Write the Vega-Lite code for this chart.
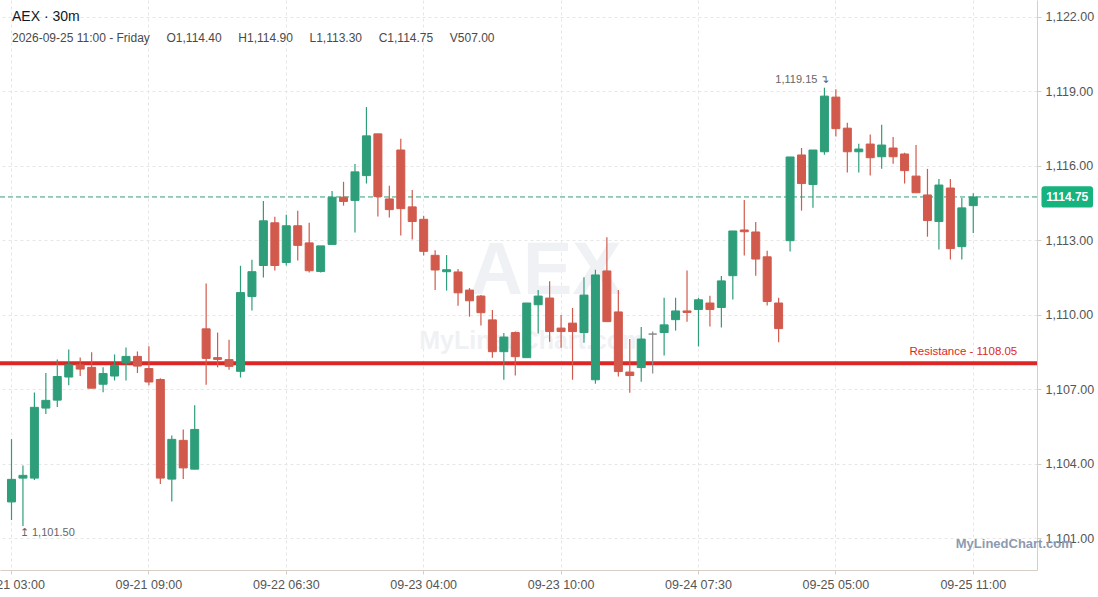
{
  "$schema": "https://vega.github.io/schema/vega-lite/v6.json",
  "autosize": {"type": "none"},
  "padding": {"left": 0, "top": 0, "right": 61, "bottom": 27},
  "width": 1037,
  "height": 570,
  "background": "white",
  "config": {
    "view": {"stroke": null},
    "font": "Liberation Sans",
    "text": {"font": "Liberation Sans"},
    "axis": {
      "title": null,
      "grid": true,
      "gridColor": "#e6e6e6",
      "gridDash": [3, 3],
      "domainColor": "#d8cfc4",
      "tickColor": "#d8cfc4",
      "tickSize": 4,
      "labelPadding": 4,
      "labelFontSize": 12.5,
      "labelColor": "#555555",
      "labelFlush": false,
      "labelOverlap": false
    },
    "axisX": {"labelAngle": 0}
  },
  "title": {
    "text": "AEX · 30m",
    "subtitle": "2026-09-25 11:00 - Friday\u00a0\u00a0\u00a0\u00a0\u00a0O1,114.40\u00a0\u00a0\u00a0\u00a0\u00a0H1,114.90\u00a0\u00a0\u00a0\u00a0\u00a0L1,113.30\u00a0\u00a0\u00a0\u00a0\u00a0C1,114.75\u00a0\u00a0\u00a0\u00a0\u00a0V507.00",
    "anchor": "start",
    "orient": "top",
    "frame": "group",
    "offset": -44,
    "dx": 12,
    "font": "Liberation Sans",
    "fontSize": 14,
    "fontWeight": "normal",
    "color": "#131722",
    "subtitleFont": "Liberation Sans",
    "subtitleFontSize": 12,
    "subtitleColor": "#4a4a4a",
    "subtitlePadding": 9
  },
  "datasets": {
    "candles": [
      {"t": "09-21 03:00", "o": 1102.47, "h": 1105.00, "l": 1101.74, "c": 1103.38},
      {"t": "09-21 03:30", "o": 1103.43, "h": 1103.94, "l": 1101.50, "c": 1103.54},
      {"t": "09-21 04:00", "o": 1103.43, "h": 1106.88, "l": 1103.35, "c": 1106.28},
      {"t": "09-21 04:30", "o": 1106.25, "h": 1107.66, "l": 1106.01, "c": 1106.56},
      {"t": "09-21 05:00", "o": 1106.57, "h": 1108.21, "l": 1106.29, "c": 1107.52},
      {"t": "09-21 05:30", "o": 1107.50, "h": 1108.61, "l": 1107.17, "c": 1107.99},
      {"t": "09-21 06:00", "o": 1107.99, "h": 1108.29, "l": 1107.54, "c": 1107.82},
      {"t": "09-21 06:30", "o": 1107.89, "h": 1108.50, "l": 1107.05, "c": 1107.05},
      {"t": "09-21 07:00", "o": 1107.21, "h": 1107.89, "l": 1106.89, "c": 1107.64},
      {"t": "09-21 07:30", "o": 1107.54, "h": 1108.41, "l": 1107.36, "c": 1107.97},
      {"t": "09-21 08:00", "o": 1108.07, "h": 1108.69, "l": 1107.36, "c": 1108.33},
      {"t": "09-21 08:30", "o": 1108.33, "h": 1108.53, "l": 1107.66, "c": 1107.94},
      {"t": "09-21 09:00", "o": 1107.84, "h": 1108.74, "l": 1107.17, "c": 1107.30},
      {"t": "09-21 09:30", "o": 1107.40, "h": 1107.45, "l": 1103.19, "c": 1103.43},
      {"t": "09-21 10:00", "o": 1103.39, "h": 1105.15, "l": 1102.49, "c": 1104.99},
      {"t": "09-21 10:30", "o": 1104.95, "h": 1105.39, "l": 1103.39, "c": 1103.84},
      {"t": "09-21 11:00", "o": 1103.79, "h": 1106.36, "l": 1103.79, "c": 1105.39},
      {"t": "09-21 11:30", "o": 1109.44, "h": 1111.27, "l": 1107.19, "c": 1108.25},
      {"t": "09-21 12:00", "o": 1108.28, "h": 1109.29, "l": 1107.89, "c": 1108.21},
      {"t": "09-21 12:30", "o": 1108.20, "h": 1109.00, "l": 1107.79, "c": 1107.93},
      {"t": "09-22 04:30", "o": 1107.73, "h": 1111.98, "l": 1107.48, "c": 1110.90},
      {"t": "09-22 05:00", "o": 1110.74, "h": 1112.22, "l": 1110.18, "c": 1111.74},
      {"t": "09-22 05:30", "o": 1111.99, "h": 1114.59, "l": 1111.51, "c": 1113.79},
      {"t": "09-22 06:00", "o": 1113.71, "h": 1113.95, "l": 1111.79, "c": 1111.99},
      {"t": "09-22 06:30", "o": 1112.11, "h": 1114.03, "l": 1111.99, "c": 1113.59},
      {"t": "09-22 07:00", "o": 1113.59, "h": 1114.19, "l": 1112.19, "c": 1112.80},
      {"t": "09-22 07:30", "o": 1112.90, "h": 1113.71, "l": 1111.71, "c": 1111.78},
      {"t": "09-22 08:00", "o": 1111.75, "h": 1112.78, "l": 1111.71, "c": 1112.78},
      {"t": "09-22 08:30", "o": 1112.84, "h": 1114.99, "l": 1112.84, "c": 1114.74},
      {"t": "09-22 09:00", "o": 1114.74, "h": 1115.36, "l": 1114.40, "c": 1114.57},
      {"t": "09-22 09:30", "o": 1114.61, "h": 1116.08, "l": 1113.32, "c": 1115.76},
      {"t": "09-22 10:00", "o": 1115.61, "h": 1118.37, "l": 1115.29, "c": 1117.21},
      {"t": "09-22 10:30", "o": 1117.29, "h": 1117.29, "l": 1113.96, "c": 1114.77},
      {"t": "09-22 11:00", "o": 1114.67, "h": 1115.20, "l": 1113.92, "c": 1114.24},
      {"t": "09-23 03:00", "o": 1116.64, "h": 1117.09, "l": 1113.20, "c": 1114.28},
      {"t": "09-23 03:30", "o": 1114.35, "h": 1115.03, "l": 1113.04, "c": 1113.76},
      {"t": "09-23 04:00", "o": 1113.85, "h": 1113.99, "l": 1112.39, "c": 1112.56},
      {"t": "09-23 04:30", "o": 1112.40, "h": 1112.60, "l": 1111.00, "c": 1111.81},
      {"t": "09-23 05:00", "o": 1111.74, "h": 1112.41, "l": 1110.98, "c": 1111.82},
      {"t": "09-23 05:30", "o": 1111.73, "h": 1111.85, "l": 1110.37, "c": 1110.89},
      {"t": "09-23 06:00", "o": 1111.00, "h": 1111.08, "l": 1109.93, "c": 1110.57},
      {"t": "09-23 06:30", "o": 1110.76, "h": 1110.80, "l": 1109.57, "c": 1110.09},
      {"t": "09-23 07:00", "o": 1109.80, "h": 1110.20, "l": 1108.28, "c": 1108.52},
      {"t": "09-23 07:30", "o": 1108.52, "h": 1109.27, "l": 1107.39, "c": 1109.11},
      {"t": "09-23 08:00", "o": 1109.29, "h": 1109.33, "l": 1107.56, "c": 1108.32},
      {"t": "09-23 08:30", "o": 1108.28, "h": 1110.48, "l": 1108.28, "c": 1110.48},
      {"t": "09-23 09:00", "o": 1110.41, "h": 1111.00, "l": 1109.25, "c": 1110.76},
      {"t": "09-23 09:30", "o": 1110.68, "h": 1111.36, "l": 1108.92, "c": 1109.33},
      {"t": "09-23 10:00", "o": 1109.47, "h": 1110.00, "l": 1108.68, "c": 1109.33},
      {"t": "09-23 10:30", "o": 1109.67, "h": 1110.28, "l": 1107.39, "c": 1109.33},
      {"t": "09-23 11:00", "o": 1109.29, "h": 1111.52, "l": 1108.88, "c": 1110.80},
      {"t": "09-23 11:30", "o": 1107.39, "h": 1111.82, "l": 1107.23, "c": 1111.61},
      {"t": "09-23 12:00", "o": 1111.77, "h": 1113.13, "l": 1109.73, "c": 1109.73},
      {"t": "09-23 12:30", "o": 1110.12, "h": 1111.00, "l": 1107.52, "c": 1107.72},
      {"t": "09-23 13:00", "o": 1107.70, "h": 1109.03, "l": 1106.87, "c": 1107.56},
      {"t": "09-23 13:30", "o": 1107.88, "h": 1109.51, "l": 1107.31, "c": 1109.03},
      {"t": "09-24 05:30", "o": 1109.23, "h": 1109.33, "l": 1107.64, "c": 1109.23},
      {"t": "09-24 06:00", "o": 1109.29, "h": 1110.69, "l": 1108.37, "c": 1109.60},
      {"t": "09-24 06:30", "o": 1109.81, "h": 1110.69, "l": 1109.37, "c": 1110.16},
      {"t": "09-24 07:00", "o": 1110.16, "h": 1111.79, "l": 1109.73, "c": 1110.10},
      {"t": "09-24 07:30", "o": 1110.22, "h": 1110.69, "l": 1108.73, "c": 1110.61},
      {"t": "09-24 08:00", "o": 1110.48, "h": 1110.77, "l": 1109.53, "c": 1110.22},
      {"t": "09-24 08:30", "o": 1110.30, "h": 1111.57, "l": 1109.49, "c": 1111.37},
      {"t": "09-24 09:00", "o": 1111.58, "h": 1113.38, "l": 1110.62, "c": 1113.38},
      {"t": "09-24 09:30", "o": 1113.42, "h": 1114.63, "l": 1112.39, "c": 1113.35},
      {"t": "09-24 10:00", "o": 1113.34, "h": 1113.74, "l": 1111.58, "c": 1112.25},
      {"t": "09-24 10:30", "o": 1112.34, "h": 1112.58, "l": 1110.38, "c": 1110.54},
      {"t": "09-24 11:00", "o": 1110.48, "h": 1110.69, "l": 1108.90, "c": 1109.45},
      {"t": "09-24 11:30", "o": 1112.99, "h": 1116.36, "l": 1112.55, "c": 1116.36},
      {"t": "09-24 12:00", "o": 1116.44, "h": 1116.72, "l": 1114.20, "c": 1115.29},
      {"t": "09-25 04:00", "o": 1115.25, "h": 1116.64, "l": 1114.32, "c": 1116.64},
      {"t": "09-25 04:30", "o": 1116.57, "h": 1119.15, "l": 1116.45, "c": 1118.81},
      {"t": "09-25 05:00", "o": 1118.77, "h": 1119.09, "l": 1117.18, "c": 1117.50},
      {"t": "09-25 05:30", "o": 1117.52, "h": 1117.74, "l": 1115.73, "c": 1116.57},
      {"t": "09-25 06:00", "o": 1116.57, "h": 1116.89, "l": 1115.73, "c": 1116.68},
      {"t": "09-25 06:30", "o": 1116.88, "h": 1117.26, "l": 1115.61, "c": 1116.33},
      {"t": "09-25 07:00", "o": 1116.37, "h": 1117.66, "l": 1115.89, "c": 1116.84},
      {"t": "09-25 07:30", "o": 1116.72, "h": 1117.16, "l": 1116.09, "c": 1116.37},
      {"t": "09-25 08:00", "o": 1116.48, "h": 1116.53, "l": 1115.29, "c": 1115.81},
      {"t": "09-25 08:30", "o": 1115.59, "h": 1116.84, "l": 1114.92, "c": 1114.92},
      {"t": "09-25 09:00", "o": 1114.83, "h": 1115.88, "l": 1113.15, "c": 1113.80},
      {"t": "09-25 09:30", "o": 1113.76, "h": 1115.47, "l": 1112.63, "c": 1115.23},
      {"t": "09-25 10:00", "o": 1115.11, "h": 1115.47, "l": 1112.23, "c": 1112.67},
      {"t": "09-25 10:30", "o": 1112.75, "h": 1114.71, "l": 1112.23, "c": 1114.31},
      {"t": "09-25 11:00", "o": 1114.40, "h": 1114.90, "l": 1113.30, "c": 1114.75}
    ],
    "marks": [
      {"name": "wm_aex", "t": "09-23 09:30", "v": 1111.74, "label": "AEX"},
      {"name": "wm_site", "t": "09-23 08:30", "v": 1108.97, "label": "MyLinedChart.com"},
      {"name": "high", "t": "09-25 04:30", "v": 1119.15, "label": "1,119.15 ↴"},
      {"name": "low", "t": "09-21 03:30", "v": 1101.50, "label": "↥ 1,101.50"},
      {"name": "resistance", "t": "09-25 11:00", "v": 1108.05, "label": "Resistance - 1108.05"},
      {"name": "last", "t": "09-25 11:00", "v": 1114.75, "label": "1114.75"},
      {"name": "wm_corner", "t": "09-25 11:00", "v": 1101.00, "label": "MyLinedChart.com"}
    ]
  },
  "layer": [
    {
      "data": {"name": "marks"},
      "transform": [{"filter": "datum.name == 'wm_aex'"}],
      "mark": {"type": "text", "fontWeight": "bold", "fontSize": 74, "color": "#eff1f4", "baseline": "middle", "align": "center", "dx": -4},
      "encoding": {
        "x": {"field": "t", "type": "ordinal", "title": null, "scale": {"type": "band"}},
        "y": {"field": "v", "type": "quantitative", "title": null, "axis": {"orient": "right"}},
        "text": {"field": "label"}
      }
    },
    {
      "data": {"name": "marks"},
      "transform": [{"filter": "datum.name == 'wm_site'"}],
      "mark": {"type": "text", "fontWeight": "bold", "fontSize": 25, "color": "#eff1f4", "baseline": "middle", "align": "center", "dx": 5},
      "encoding": {
        "x": {"field": "t", "type": "ordinal", "title": null, "scale": {"type": "band"}},
        "y": {"field": "v", "type": "quantitative", "title": null, "axis": {"orient": "right"}},
        "text": {"field": "label"}
      }
    },
    {
      "data": {"name": "marks"},
      "transform": [{"filter": "datum.name == 'resistance'"}],
      "mark": {"type": "rule", "color": "#dd2727", "strokeWidth": 4},
      "encoding": {
        "y": {"field": "v", "type": "quantitative", "title": null, "axis": {"orient": "right"}}
      }
    },
    {
      "data": {"name": "marks"},
      "transform": [{"filter": "datum.name == 'last'"}],
      "mark": {"type": "rule", "color": "#2e9e7a", "strokeWidth": 1, "strokeDash": [5, 3]},
      "encoding": {
        "y": {"field": "v", "type": "quantitative", "title": null, "axis": {"orient": "right"}}
      }
    },
    {
      "data": {"name": "candles"},
      "mark": {"type": "rule", "strokeWidth": 1.2},
      "encoding": {
        "x": {"field": "t", "type": "ordinal", "title": null, "scale": {"type": "band"}},
        "y": {"field": "l", "type": "quantitative", "title": null, "axis": {"orient": "right"}},
        "y2": {"field": "h"},
        "color": {
          "condition": [
            {"test": "datum.c > datum.o", "value": "#2e9e7a"},
            {"test": "datum.c < datum.o", "value": "#d15a4c"}
          ],
          "value": "#8a8a8a"
        }
      }
    },
    {
      "data": {"name": "candles"},
      "mark": {"type": "bar", "size": 8, "strokeWidth": 1},
      "encoding": {
        "x": {
          "field": "t",
          "type": "ordinal",
          "title": null,
          "scale": {
            "type": "band",
            "paddingInner": 0,
            "paddingOuter": 0.285,
            "align": 0.884,
            "domain": [
              "09-21 03:00", "09-21 03:30", "09-21 04:00", "09-21 04:30", "09-21 05:00", "09-21 05:30",
              "09-21 06:00", "09-21 06:30", "09-21 07:00", "09-21 07:30", "09-21 08:00", "09-21 08:30",
              "09-21 09:00", "09-21 09:30", "09-21 10:00", "09-21 10:30", "09-21 11:00", "09-21 11:30",
              "09-21 12:00", "09-21 12:30", "09-22 04:30", "09-22 05:00", "09-22 05:30", "09-22 06:00",
              "09-22 06:30", "09-22 07:00", "09-22 07:30", "09-22 08:00", "09-22 08:30", "09-22 09:00",
              "09-22 09:30", "09-22 10:00", "09-22 10:30", "09-22 11:00", "09-23 03:00", "09-23 03:30",
              "09-23 04:00", "09-23 04:30", "09-23 05:00", "09-23 05:30", "09-23 06:00", "09-23 06:30",
              "09-23 07:00", "09-23 07:30", "09-23 08:00", "09-23 08:30", "09-23 09:00", "09-23 09:30",
              "09-23 10:00", "09-23 10:30", "09-23 11:00", "09-23 11:30", "09-23 12:00", "09-23 12:30",
              "09-23 13:00", "09-23 13:30", "09-24 05:30", "09-24 06:00", "09-24 06:30", "09-24 07:00",
              "09-24 07:30", "09-24 08:00", "09-24 08:30", "09-24 09:00", "09-24 09:30", "09-24 10:00",
              "09-24 10:30", "09-24 11:00", "09-24 11:30", "09-24 12:00", "09-25 04:00", "09-25 04:30",
              "09-25 05:00", "09-25 05:30", "09-25 06:00", "09-25 06:30", "09-25 07:00", "09-25 07:30",
              "09-25 08:00", "09-25 08:30", "09-25 09:00", "09-25 09:30", "09-25 10:00", "09-25 10:30",
              "09-25 11:00", "09-25 11:30", "09-25 12:00", "09-25 12:30", "09-25 13:00", "09-25 13:30"
            ]
          },
          "axis": {
            "values": ["09-21 03:00", "09-21 09:00", "09-22 06:30", "09-23 04:00", "09-23 10:00", "09-24 07:30", "09-25 05:00", "09-25 11:00"],
            "bandPosition": 0.5
          }
        },
        "y": {
          "field": "o",
          "type": "quantitative",
          "title": null,
          "scale": {"domain": [1099.73, 1122.68], "nice": false, "zero": false},
          "axis": {
            "orient": "right",
            "values": [1101, 1104, 1107, 1110, 1113, 1116, 1119, 1122],
            "format": ",.2f"
          }
        },
        "y2": {"field": "c"},
        "color": {
          "condition": [
            {"test": "datum.c > datum.o", "value": "#2e9e7a"},
            {"test": "datum.c < datum.o", "value": "#d15a4c"}
          ],
          "value": "#8a8a8a"
        },
        "stroke": {
          "condition": [
            {"test": "datum.c > datum.o", "value": "#2e9e7a"},
            {"test": "datum.c < datum.o", "value": "#d15a4c"}
          ],
          "value": "#8a8a8a"
        }
      }
    },
    {
      "data": {"name": "marks"},
      "transform": [{"filter": "datum.name == 'high'"}],
      "mark": {"type": "text", "fontSize": 11, "color": "#666666", "align": "right", "baseline": "middle", "dx": 5, "dy": -8},
      "encoding": {
        "x": {"field": "t", "type": "ordinal", "title": null, "scale": {"type": "band"}},
        "y": {"field": "v", "type": "quantitative", "title": null, "axis": {"orient": "right"}},
        "text": {"field": "label"}
      }
    },
    {
      "data": {"name": "marks"},
      "transform": [{"filter": "datum.name == 'low'"}],
      "mark": {"type": "text", "fontSize": 11, "color": "#666666", "align": "left", "baseline": "middle", "dx": -3, "dy": 7},
      "encoding": {
        "x": {"field": "t", "type": "ordinal", "title": null, "scale": {"type": "band"}},
        "y": {"field": "v", "type": "quantitative", "title": null, "axis": {"orient": "right"}},
        "text": {"field": "label"}
      }
    },
    {
      "data": {"name": "marks"},
      "transform": [{"filter": "datum.name == 'resistance'"}],
      "mark": {"type": "text", "fontSize": 11.5, "color": "#dd2727", "align": "right", "baseline": "middle", "dx": 44, "dy": -11},
      "encoding": {
        "x": {"field": "t", "type": "ordinal", "title": null, "scale": {"type": "band"}},
        "y": {"field": "v", "type": "quantitative", "title": null, "axis": {"orient": "right"}},
        "text": {"field": "label"}
      }
    },
    {
      "data": {"name": "marks"},
      "transform": [{"filter": "datum.name == 'last'"}],
      "mark": {
        "type": "point",
        "filled": true,
        "opacity": 1,
        "color": "#16b37f",
        "size": 454,
        "xOffset": 94,
        "shape": "M-2.14,-1L2.14,-1Q2.42,-1 2.42,-0.72L2.42,0.72Q2.42,1 2.14,1L-2.14,1Q-2.42,1 -2.42,0.72L-2.42,-0.72Q-2.42,-1 -2.14,-1Z"
      },
      "encoding": {
        "x": {"field": "t", "type": "ordinal", "title": null, "scale": {"type": "band"}},
        "y": {"field": "v", "type": "quantitative", "title": null, "axis": {"orient": "right"}}
      }
    },
    {
      "data": {"name": "marks"},
      "transform": [{"filter": "datum.name == 'last'"}],
      "mark": {"type": "text", "fontSize": 12, "fontWeight": "bold", "color": "white", "align": "center", "baseline": "middle", "dx": 94},
      "encoding": {
        "x": {"field": "t", "type": "ordinal", "title": null, "scale": {"type": "band"}},
        "y": {"field": "v", "type": "quantitative", "title": null, "axis": {"orient": "right"}},
        "text": {"field": "label"}
      }
    },
    {
      "data": {"name": "marks"},
      "transform": [{"filter": "datum.name == 'wm_corner'"}],
      "mark": {"type": "text", "fontSize": 13, "fontWeight": "bold", "color": "#8d9ab0", "align": "center", "baseline": "middle", "dx": 41, "dy": 6},
      "encoding": {
        "x": {"field": "t", "type": "ordinal", "title": null, "scale": {"type": "band"}},
        "y": {"field": "v", "type": "quantitative", "title": null, "axis": {"orient": "right"}},
        "text": {"field": "label"}
      }
    }
  ]
}
